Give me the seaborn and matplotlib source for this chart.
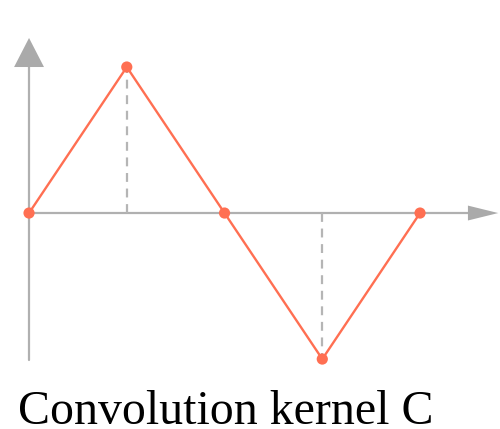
import matplotlib
matplotlib.use("Agg")
import matplotlib.pyplot as plt
from matplotlib.patches import Polygon
import seaborn as sns
import pandas as pd

# Kernel samples
positions = [0, 1, 2, 3, 4]
weights = [0, 1, 0, -1, 0]
title = "Convolution kernel C"

line_color = "#ff6f52"
axis_color = "#b0b0b0"

sns.set_style("white")

fig = plt.figure(figsize=(5.0, 4.29), dpi=100)
ax = fig.add_axes([0, 0, 1, 1])
ax.set_xlim(-0.297, 4.818)
ax.set_ylim(-1.479, 1.459)
ax.axis("off")

df = pd.DataFrame({"t": positions, "w": weights})

# Coordinate axes with arrowheads
ax.plot([0, 0], [-1.007, 1.0], color=axis_color, lw=1.6, zorder=1)
ax.plot([0, 4.5], [0, 0], color=axis_color, lw=1.6, zorder=1)
ax.add_patch(Polygon([[-0.153, 1.0], [0.153, 1.0], [0, 1.199]],
                     closed=True, color="#aaaaaa", lw=0, zorder=1))
ax.add_patch(Polygon([[4.49, -0.051], [4.49, 0.051], [4.80, 0]],
                     closed=True, color="#aaaaaa", lw=0, zorder=1))

# Dashed drop lines from the non-zero samples
for t, w in zip(positions, weights):
    if w != 0:
        ax.plot([t, t], [0, w], color="#b5b5b5", lw=1.6,
                linestyle=(0, (4, 3)), zorder=2)

sns.lineplot(data=df, x="t", y="w", ax=ax, color=line_color, lw=1.7,
             zorder=3, legend=False)
sns.scatterplot(data=df, x="t", y="w", ax=ax, color=line_color, s=65,
                edgecolor="none", zorder=4, legend=False)
ax.axis("off")

fig.text(18 / 500, (429 - 424) / 429, title, fontsize=34.5, color="black",
         family="Liberation Serif", ha="left", va="baseline")

fig.savefig("out.png", dpi=100)
